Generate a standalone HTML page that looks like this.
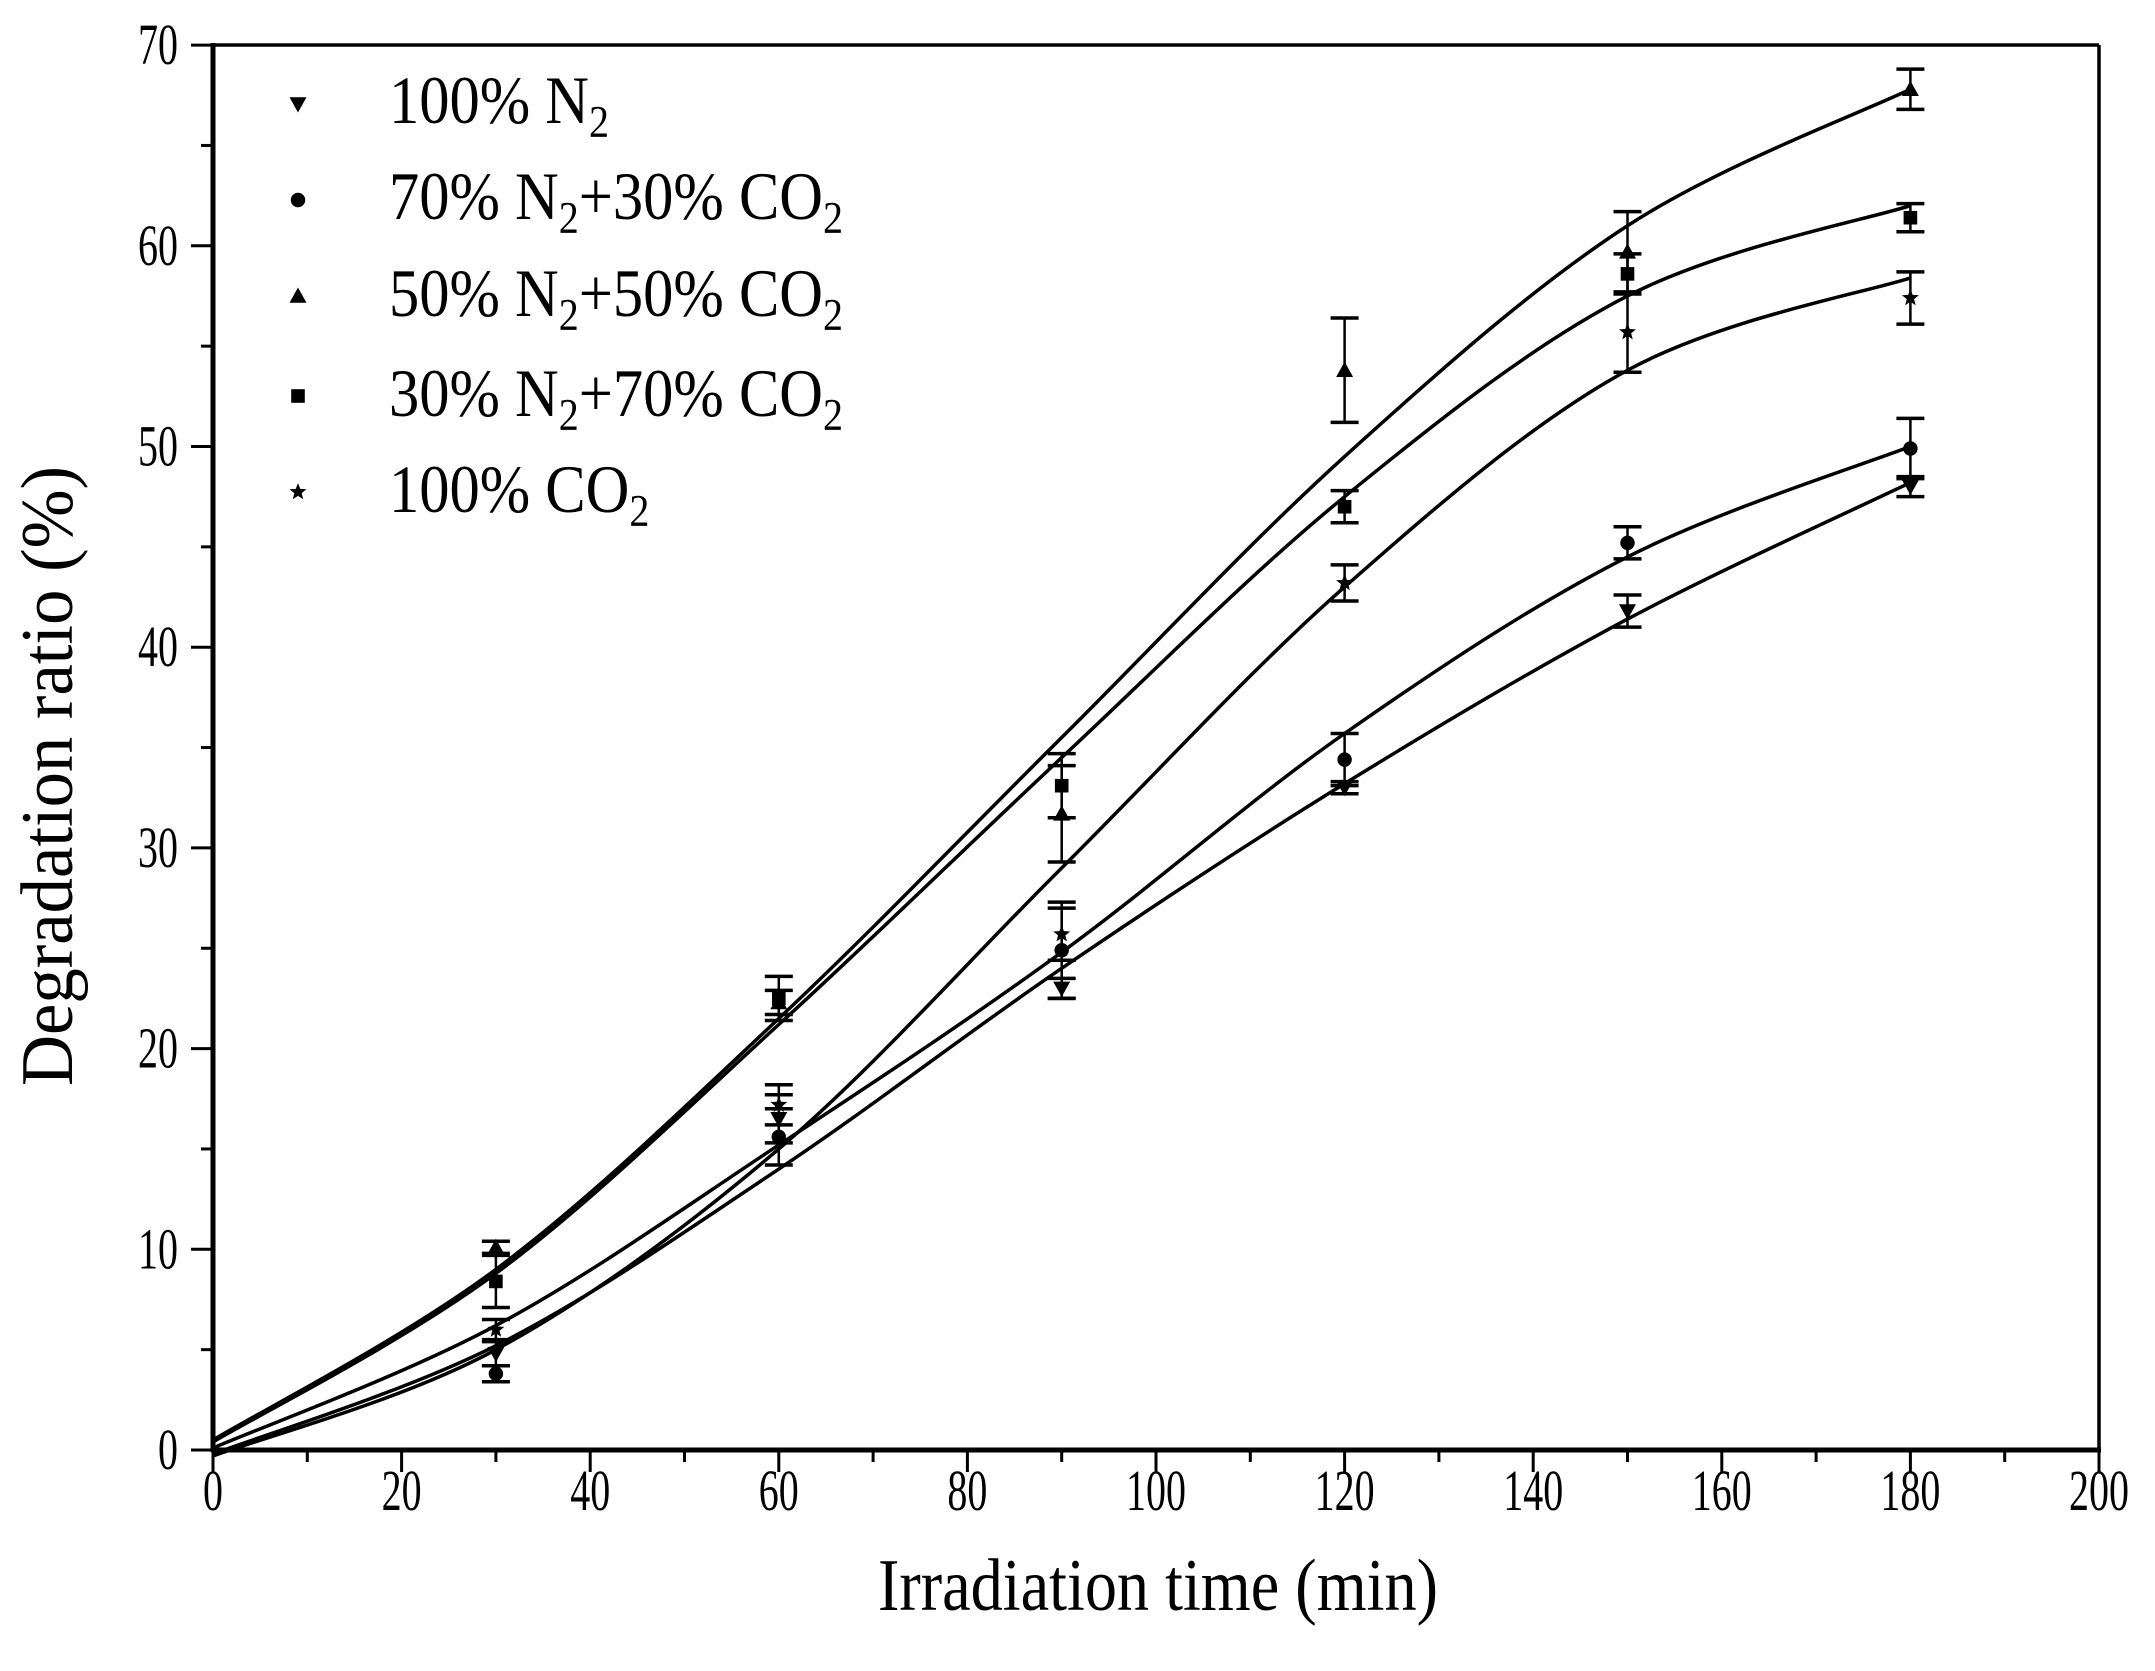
<!DOCTYPE html>
<html><head><meta charset="utf-8"><style>
html,body{margin:0;padding:0;background:#fff;}
svg{display:block;}
text{font-family:"Liberation Serif",serif;fill:#000;}
</style></head><body>
<svg id="s" width="2155" height="1671" viewBox="0 0 2155 1671" xmlns="http://www.w3.org/2000/svg">
<g id="g"></g>
<g font-size="68">
<g transform="translate(389,0) scale(0.89,1)">
<text x="0" y="123">100% N<tspan font-size="45" dy="14">2</tspan></text>
<text x="0" y="219">70% N<tspan font-size="45" dy="14">2</tspan><tspan dy="-14">+30% CO</tspan><tspan font-size="45" dy="14">2</tspan></text>
<text x="0" y="316">50% N<tspan font-size="45" dy="14">2</tspan><tspan dy="-14">+50% CO</tspan><tspan font-size="45" dy="14">2</tspan></text>
<text x="0" y="416">30% N<tspan font-size="45" dy="14">2</tspan><tspan dy="-14">+70% CO</tspan><tspan font-size="45" dy="14">2</tspan></text>
<text x="0" y="512">100% CO<tspan font-size="45" dy="14">2</tspan></text>
</g></g>
<text x="0" y="0" font-size="74" text-anchor="middle" textLength="560" lengthAdjust="spacingAndGlyphs" transform="translate(1158,1610)">Irradiation time (min)</text>
<text x="0" y="0" font-size="74" text-anchor="middle" textLength="620" lengthAdjust="spacingAndGlyphs" transform="translate(72,776) rotate(-90)">Degradation ratio (%)</text>
</svg>
<script>
var g=document.getElementById('g'),h='';
function X(t){return 213+t*9.43;}function Y(v){return 1450-v*20.07;}
function L(a,b,c,d,w){h+='<line x1="'+a+'" y1="'+b+'" x2="'+c+'" y2="'+d+'" stroke="#000" stroke-width="'+(w||3)+'"/>';}
L(213,45,2099,45,3.5);L(2099,45,2099,1450,3.5);L(213,43,213,1452,5);L(211,1450,2101,1450,5);
for(var t=0;t<=200;t+=10){var x=X(t);L(x,1450,x,1450+(t%20==0?22:12),3);
 if(t%20==0)h+='<text x="'+x+'" y="1510" font-size="58" text-anchor="middle" textLength="'+(String(t).length*20)+'" lengthAdjust="spacingAndGlyphs">'+t+'</text>';}
for(var v=0;v<=70;v+=5){var y=Y(v);L(213,y,213-(v%10==0?22:12),y,3);
 if(v%10==0)h+='<text x="178" y="'+(y+19)+'" font-size="58" text-anchor="end" textLength="'+(String(v).length*20)+'" lengthAdjust="spacingAndGlyphs">'+v+'</text>';}
var curves=[
[[0,0.5],[30,9],[60,21.5],[90,35.5],[120,49.5],[150,61],[180,67.8]],
[[0,0.4],[30,8.8],[60,21.2],[90,34.5],[120,47.5],[150,57.5],[180,62]],
[[0,-0.3],[30,5],[60,15],[90,29],[120,43],[150,53.8],[180,58.4]],
[[0,0.1],[30,6.2],[60,15.2],[90,24.8],[120,35.7],[150,44.5],[180,50]],
[[0,-0.2],[30,5.2],[60,14],[90,24],[120,33.2],[150,41.4],[180,48.2]]];
curves.forEach(function(p){var d='M'+X(p[0][0])+','+Y(p[0][1]);
 for(var i=0;i<p.length-1;i++){var p0=p[Math.max(i-1,0)],p1=p[i],p2=p[i+1],p3=p[Math.min(i+2,p.length-1)];
  var c1x=X(p1[0]+(p2[0]-p0[0])/6),c1y=Y(p1[1]+(p2[1]-p0[1])/6),c2x=X(p2[0]-(p3[0]-p1[0])/6),c2y=Y(p2[1]-(p3[1]-p1[1])/6);
  d+=' C'+c1x+','+c1y+' '+c2x+','+c2y+' '+X(p2[0])+','+Y(p2[1]);}
 h+='<path d="'+d+'" fill="none" stroke="#000" stroke-width="3.5"/>';});
function M(type,x,y,s){s=s||1;var r=8.5*s;
 if(type=='dn')h+='<polygon points="'+(x-r)+','+(y-r*0.8)+' '+(x+r)+','+(y-r*0.8)+' '+x+','+(y+r)+'"/>';
 if(type=='up')h+='<polygon points="'+(x-r)+','+(y+r*0.8)+' '+(x+r)+','+(y+r*0.8)+' '+x+','+(y-r)+'"/>';
 if(type=='c')h+='<circle cx="'+x+'" cy="'+y+'" r="'+r*0.85+'"/>';
 if(type=='sq')h+='<rect x="'+(x-r*0.8)+'" y="'+(y-r*0.8)+'" width="'+r*1.6+'" height="'+r*1.6+'"/>';
 if(type=='st'){var pts='';for(var k=0;k<10;k++){var a=-Math.PI/2+k*Math.PI/5,rr=k%2?r*0.45:r*1.05;pts+=(x+rr*Math.cos(a))+','+(y+rr*Math.sin(a))+' ';}h+='<polygon points="'+pts+'"/>';}}
var data=[
['dn',[[30,4.8,0.6],[60,16.5,1.2],[90,23,0.5],[120,33,0.3],[150,41.8,0.8],[180,48,0.5]]],
['c',[[30,3.8,0.4],[60,15.6,1.4],[90,24.9,2.4],[120,34.4,1.3],[150,45.2,0.8],[180,49.9,1.5]]],
['up',[[30,10.1,0.3],[60,22.3,0.6],[90,31.7,2.4],[120,53.8,2.6],[150,59.7,2],[180,67.8,1]]],
['sq',[[30,8.4,1.3],[60,22.5,1.1],[90,33.1,1.6],[120,47,0.8],[150,58.6,1],[180,61.4,0.7]]],
['st',[[30,6,0.5],[60,17.2,1],[90,25.7,1.3],[120,43.2,0.9],[150,55.7,2],[180,57.4,1.3]]]];
data.forEach(function(s){s[1].forEach(function(p){var x=X(p[0]),y1=Y(p[1]-p[2]),y2=Y(p[1]+p[2]);
 L(x,y1,x,y2,2.5);L(x-14,y1,x+14,y1,3.5);L(x-14,y2,x+14,y2,3.5);M(s[0],x,Y(p[1]));});});
var ly=[104,200,296,396,492],lt=['dn','c','up','sq','st'];
for(var i=0;i<5;i++)M(lt[i],298,ly[i]);
g.innerHTML=h;
</script>
</body></html>
